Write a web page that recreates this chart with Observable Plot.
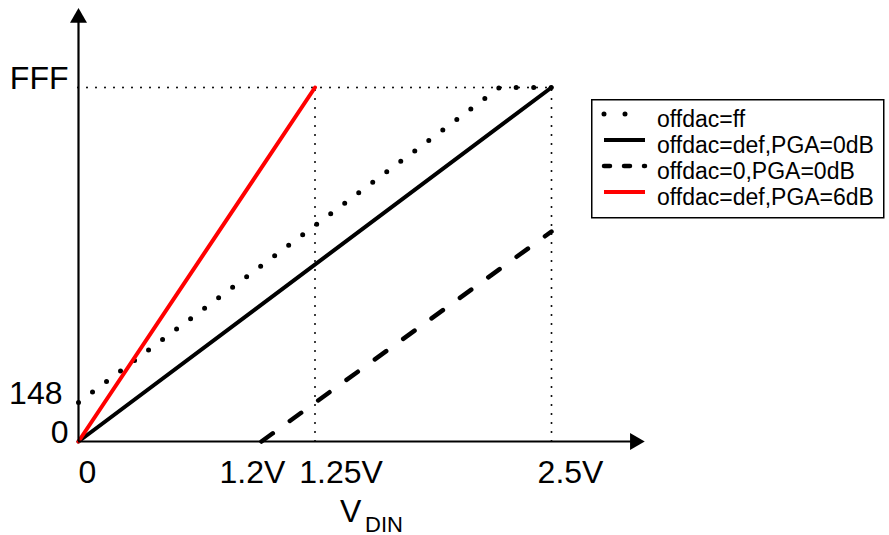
<!DOCTYPE html>
<html>
<head>
<meta charset="utf-8">
<script src="https://cdn.jsdelivr.net/npm/d3@7"></script>
<script src="https://cdn.jsdelivr.net/npm/@observablehq/plot@0.6"></script>
<style>
  html, body { margin: 0; padding: 0; background: #fff; }
  #wrap { position: relative; width: 889px; height: 535px; font-family: "Liberation Sans", Arial, Helvetica, sans-serif; }
  #legend { position: absolute; left: 591px; top: 99px; }
</style>
</head>
<body>
<div id="wrap"></div>
<script>
// ---- data (schematic positions) ----
// x in volts (as drawn), y in ADC code units (as drawn, FFF = 4095)
const seriesNames = ["offdac=ff", "offdac=def,PGA=0dB", "offdac=0,PGA=0dB", "offdac=def,PGA=6dB"];
const offdacFF_x = [0, 2.225, 2.5];
const offdacFF_y = [451, 4095, 4095];
const defPGA0_x = [0, 2.5];
const defPGA0_y = [0, 4095];
const zeroPGA0_x = [0.967, 2.5];
const zeroPGA0_y = [0, 2429];
const defPGA6_x = [0, 1.25];
const defPGA6_y = [0, 4095];

const yTickValues = [0, 451, 4095];
const yTickLabels = ["0", "148", "FFF"];
const yTickShift = [-10, -16, -10];
const xTickValues = [0, 0.967, 1.25, 2.5];
const xTickLabels = ["0", "1.2V", "1.25V", "2.5V"];
const xTickShift = [9, -9, 26, 19];
const guideV = [1.25, 2.5];
const fullScale = 4095;

const toPts = (xs, ys) => xs.map((x, i) => ({x, y: ys[i]}));

const font = "Liberation Sans, Arial, Helvetica, sans-serif";

const plot = Plot.plot({
  width: 889,
  height: 535,
  margin: 0,
  style: {fontFamily: font, background: "white", overflow: "visible"},
  x: {domain: [0, 3], range: [78, 78 + 3 * 189.2], axis: null},
  y: {domain: [0, 4095], range: [441, 87], axis: null},
  marks: [
    // guide dotted lines
    Plot.ruleY([fullScale], {x1: 0, x2: 2.5, stroke: "black", strokeWidth: 2, strokeDasharray: "0 9", strokeLinecap: "round"}),
    Plot.ruleX(guideV, {y1: 0, y2: fullScale, stroke: "black", strokeWidth: 2, strokeDasharray: "0 9", strokeLinecap: "round"}),
    // series
    Plot.line(toPts(offdacFF_x, offdacFF_y), {x: "x", y: "y", stroke: "black", strokeWidth: 5, strokeDasharray: "0 17.5", strokeLinecap: "round"}),
    Plot.line(toPts(defPGA0_x, defPGA0_y), {x: "x", y: "y", stroke: "black", strokeWidth: 4}),
    Plot.line(toPts(zeroPGA0_x, zeroPGA0_y), {x: "x", y: "y", stroke: "black", strokeWidth: 4.5, strokeDasharray: "14 21", strokeLinecap: "round"}),
    Plot.line(toPts(defPGA6_x, defPGA6_y), {x: "x", y: "y", stroke: "#ff0000", strokeWidth: 4}),
    // axes with arrow heads
    Plot.ruleY([0], {x1: 0, x2: 2.93, stroke: "black", strokeWidth: 2.2}),
    Plot.ruleX([0], {y1: 0, y2: 4880, stroke: "black", strokeWidth: 2.2}),
    Plot.dot([{x: 2.941, y: 0}], {x: "x", y: "y", symbol: "triangle", r: 6.3, rotate: 90, fill: "black", stroke: "none"}),
    Plot.dot([{x: 0, y: 4900}], {x: "x", y: "y", symbol: "triangle", r: 6.3, fill: "black", stroke: "none"}),
    // y tick labels
    ...yTickValues.map((v, i) => Plot.text([v], {x: 0, y: d => d, text: () => yTickLabels[i], textAnchor: "end", lineAnchor: "bottom", dx: yTickShift[i], dy: 1, fontSize: 32, fill: "black"})),
    // x tick labels (each shifted as in the picture)
    ...xTickValues.map((v, i) => Plot.text([v], {x: d => d, y: 0, text: () => xTickLabels[i], textAnchor: "middle", lineAnchor: "bottom", dx: xTickShift[i], dy: 41, fontSize: 32, fill: "black"})),
    // axis title V_DIN
    Plot.text(["V"], {x: 1.25, y: 0, text: d => d, textAnchor: "start", lineAnchor: "bottom", dx: 25, dy: 80, fontSize: 32, fill: "black"}),
    Plot.text(["DIN"], {x: 1.25, y: 0, text: d => d, textAnchor: "start", lineAnchor: "bottom", dx: 50, dy: 90, fontSize: 22, fill: "black"})
  ]
});

document.getElementById("wrap").appendChild(plot);

// ---- legend ----
const legendStyles = [
  {stroke: "black", width: 5, dash: "0 21", cap: "round"},
  {stroke: "black", width: 4, dash: null, cap: "butt"},
  {stroke: "black", width: 4.5, dash: "6 14", cap: "round"},
  {stroke: "#ff0000", width: 4, dash: null, cap: "butt"}
];
const lg = d3.select("#wrap").append("svg")
  .attr("id", "legend")
  .attr("width", 295).attr("height", 120)
  .style("font-family", font);
lg.append("rect").attr("x", 0.75).attr("y", 0.75).attr("width", 292).attr("height", 118)
  .attr("fill", "white").attr("stroke", "black").attr("stroke-width", 1.5);
seriesNames.forEach((name, i) => {
  const s = legendStyles[i];
  const ly = 15 + i * 26;
  const ln = lg.append("line").attr("x1", 13).attr("x2", 54).attr("y1", ly).attr("y2", ly)
    .attr("stroke", s.stroke).attr("stroke-width", s.width).attr("stroke-linecap", s.cap);
  if (s.dash) ln.attr("stroke-dasharray", s.dash);
  lg.append("text").attr("x", 66).attr("y", ly + 13).attr("font-size", 23).attr("fill", "black").text(name);
});
</script>
</body>
</html>
